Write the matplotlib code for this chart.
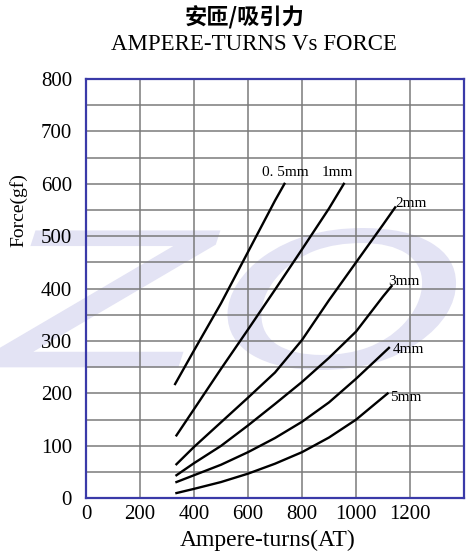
import numpy as np
import matplotlib.pyplot as plt
from matplotlib.textpath import TextPath
from matplotlib.patches import PathPatch
from matplotlib.font_manager import FontProperties
from matplotlib.transforms import Affine2D

# Données (AT -> gf)
at_05 = [330, 400, 500, 600, 700, 735]
f_05 = [218, 282, 372, 470, 568, 600]

at_1 = [335, 400, 500, 600, 700, 800, 900, 955]
f_1 = [120, 170, 247, 322, 398, 475, 553, 600]

at_2 = [335, 400, 500, 600, 700, 800, 900, 1000, 1100, 1145]
f_2 = [65, 98, 145, 192, 240, 302, 378, 450, 522, 555]

at_3 = [335, 400, 500, 600, 700, 800, 900, 1000, 1100, 1132]
f_3 = [44, 67, 100, 139, 180, 222, 268, 318, 385, 405]

at_4 = [335, 400, 500, 600, 700, 800, 900, 1000, 1122]
f_4 = [31, 44, 64, 88, 115, 146, 183, 228, 287]

at_5 = [335, 400, 500, 600, 700, 800, 900, 1000, 1117]
f_5 = [10, 18, 31, 47, 66, 88, 116, 150, 200]

noms = ["0. 5mm", "1mm", "2mm", "3mm", "4mm", "5mm"]
pos_noms = [(650, 622), (873, 622), (1145, 562), (1120, 413), (1135, 283), (1128, 192)]

xticks = [0, 200, 400, 600, 800, 1000, 1200]
yticks = [0, 100, 200, 300, 400, 500, 600, 700, 800]

serif = "Liberation Serif"

fig = plt.figure(figsize=(4.66, 5.51), dpi=100)

# Filigrane "ZO" en fond, très clair
tp = TextPath((0, 0), "ZO", size=1,
              prop=FontProperties(family="DejaVu Sans", style="italic"))
ext = tp.get_extents()
sx = (470 / 466) / ext.width
sy = (142 / 551) / ext.height
tr = Affine2D().translate(-ext.x0, -ext.y0).scale(sx, sy).translate(-0.03, 181 / 551)
wm = PathPatch(tp, transform=tr + fig.transFigure, facecolor="#e3e3f4",
               edgecolor="none", zorder=-1)
fig.patches.append(wm)

ax = fig.add_axes([86 / 466, 52.7 / 551, 378 / 466, 419.3 / 551])
ax.set_zorder(1)
ax.patch.set_alpha(0)

for at, f in [(at_05, f_05), (at_1, f_1), (at_2, f_2), (at_3, f_3), (at_4, f_4), (at_5, f_5)]:
    ax.plot(at, f, color="black", lw=1.7, zorder=3)

for nom, (x, y) in zip(noms, pos_noms):
    ax.text(x, y, nom, fontsize=11, family=serif, va="center", ha="left", zorder=4)

ax.set_xlim(0, 1400)
ax.set_ylim(0, 800)
ax.set_xticks(range(0, 1401, 200))
ax.set_xticklabels([str(t) for t in xticks] + [""])
ax.set_yticks(yticks)
ax.set_yticks(range(0, 801, 50), minor=True)
ax.grid(True, which="both", color="#7a7a7a", lw=1.1)
ax.tick_params(which="both", length=0, labelsize=15)
ax.tick_params(axis="y", pad=10)
ax.tick_params(axis="x", pad=5)
for lab in ax.get_xticklabels() + ax.get_yticklabels():
    lab.set_family(serif)
for sp in ax.spines.values():
    sp.set_color("#3a3aa8")
    sp.set_linewidth(1.6)

fig.text(245 / 466, 1 - 18 / 551, "安匝/吸引力", ha="center", va="center",
         fontsize=16, weight="bold", family=["Noto Sans CJK SC", "DejaVu Sans"])
fig.text(254 / 466, 1 - 45 / 551, "AMPERE-TURNS Vs FORCE", ha="center", va="center",
         fontsize=16.5, family=serif)
fig.text(18 / 466, 1 - 210 / 551, "Force(gf)", rotation=90, ha="center", va="center",
         fontsize=14, family=serif)
fig.text(268 / 466, 1 - 540 / 551, "Ampere-turns(AT)", ha="center", va="center",
         fontsize=17, family=serif)

fig.savefig("out.png", dpi=100)
